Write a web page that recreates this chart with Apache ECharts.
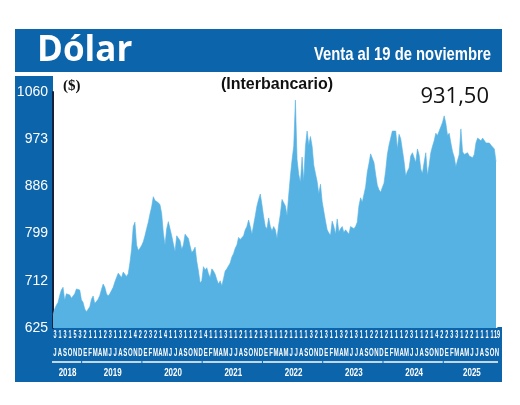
<!DOCTYPE html>
<html><head><meta charset="utf-8">
<script src="https://cdn.jsdelivr.net/npm/echarts@6/dist/echarts.min.js"></script>
<style>html,body{margin:0;padding:0;background:#fff}#c{width:520px;height:405px}</style>
</head><body><div id="c"></div>
<script>
// ---- data (dólar interbancario, 3 readings per month, Jul 2018 – 19 Nov 2025) ----
const yTicks = [625, 712, 799, 886, 973, 1060];
const v2018 = [650,660,667, 672,685,695, 700,676,688, 690,686,680, 678,688,697, 700,695,677];
const v2019 = [672,660,655, 654,664,678, 684,670,672, 678,685,696, 706,700,688, 684,688,694, 700,710,718, 726,722,718, 728,724,720, 725,745,770, 812,820,778, 768,772,777];
const v2020 = [784,795,808, 820,835,848, 867,860,862, 856,852,836, 800,778,808, 821,808,795, 780,766,795, 798,786,770, 778,798,796, 790,776,764, 768,774,748, 730,708,712];
const v2021 = [738,732,736, 725,718,734, 730,724,714, 706,712,703, 716,730,734, 736,745,756, 762,772,778, 792,788,786, 795,806,812, 824,812,798, 815,832,850, 862,872,852];
const v2022 = [830,812,808, 828,812,804, 812,806,790, 815,835,862, 864,850,832, 870,905,935, 960,1045,935, 908,893,940, 895,960,988, 962,978,960, 925,910,895, 872,890,858];
const v2023 = [840,822,806, 800,796,822, 812,798,826, 802,808,812, 801,806,805, 798,812,810, 808,812,820, 850,865,857, 860,885,912, 928,946,938, 930,908,888, 880,875,884];
const v2024 = [892,915,945, 962,975,988, 985,988,955, 982,974,953, 932,905,914, 920,942,948, 950,930,955, 944,918,910, 930,948,906, 925,948,960, 970,984,980, 988,996,1004];
const v2025 = [1016,1002,980, 984,966,950, 940,922,934, 945,992,950, 945,944,948, 942,940,939, 945,966,975, 974,970,975, 972,966,969, 966,962,965, 955,931.5];

const firstDays = [
  '3','1','3','1','5','3',
  '2','1','1','1','2','3','1','1','2','1','4','2',
  '2','3','2','1','4','1','1','3','1','1','2','1',
  '4','1','1','1','3','1','1','2','1','1','2','1',
  '3','1','1','1','2','1','1','1','1','3','2','1',
  '3','1','1','3','2','1','3','1','1','2','2','1',
  '2','1','1','1','2','3','1','1','2','1','4','2',
  '2','3','3','1','2','2','1','1','1','1','19'
];
const monthInitials = ['E','F','M','A','M','J','J','A','S','O','N','D'];
const years = [
  {label:'2018', from:0,  to:5},
  {label:'2019', from:6,  to:17},
  {label:'2020', from:18, to:29},
  {label:'2021', from:30, to:41},
  {label:'2022', from:42, to:53},
  {label:'2023', from:54, to:65},
  {label:'2024', from:66, to:77},
  {label:'2025', from:78, to:88}
];
const lastValue = '931,50';

// ---- derived ----
const values = [].concat(v2018, v2019, v2020, v2021, v2022, v2023, v2024, v2025);
const monthKeys = [], monthLetters = [];
for (let i = 0; i < firstDays.length; i++) {
  const m = (6 + i) % 12, y = 2018 + Math.floor((6 + i) / 12);
  monthKeys.push(y + '-' + String(m + 1).padStart(2, '0'));
  monthLetters.push(monthInitials[m]);
}
const cats = [];
monthKeys.forEach(k => { for (let t = 1; t <= 3; t++) cats.push(k + '/' + t); });
cats.length = values.length;

const BLUE = '#0c64aa', AREA = '#56b2e3';
const SANS = '"Liberation Sans", Arial, sans-serif';

function condensedText(text, x, y, font, fill, align, sx) {
  return {type: 'text', z: 10, x: x, y: y, scaleX: sx, scaleY: 1,
    style: {text: text, fill: fill, font: font, textAlign: align, textVerticalAlign: 'middle'}};
}

const chart = echarts.init(document.getElementById('c'), null, {renderer: 'canvas'});
chart.setOption({
  animation: false,
  backgroundColor: '#fff',
  grid: [
    {left: 53, right: 24, top: 92, bottom: 77},
    {left: 55, right: 23, top: 327, height: 16}
  ],
  xAxis: [
    {type: 'category', gridIndex: 0, data: cats, boundaryGap: false, show: false},
    {type: 'category', gridIndex: 1, data: monthKeys, boundaryGap: false, position: 'bottom',
     axisLine: {show: true, lineStyle: {color: '#fff', width: 1, type: [6, 3]}},
     axisTick: {show: false}, axisLabel: {show: false}}
  ],
  yAxis: [
    {type: 'value', gridIndex: 0, min: yTicks[0], max: yTicks[yTicks.length - 1], interval: yTicks[1] - yTicks[0],
     axisLine: {show: true, lineStyle: {color: '#15203a', width: 2}}, axisTick: {show: false},
     splitLine: {show: false},
     axisLabel: {color: '#fff', fontSize: 14, fontFamily: SANS, margin: 5, formatter: v => String(v)}},
    {type: 'value', gridIndex: 1, min: 0, max: 16, inverse: true, show: false}
  ],
  graphic: [
    {type: 'rect', z: -10, shape: {x: 15, y: 29, width: 487, height: 43}, style: {fill: BLUE}},
    {type: 'rect', z: -10, shape: {x: 15, y: 76, width: 38, height: 306}, style: {fill: BLUE}},
    {type: 'rect', z: -10, shape: {x: 15, y: 327, width: 487, height: 55}, style: {fill: BLUE}},
    condensedText('Dólar', 37, 51, 'bold 35px "Open Sans"', '#fff', 'left', 1),
    condensedText('Venta al 19 de noviembre', 491, 54.5, 'bold 19px ' + SANS, '#fff', 'right', 0.78),
    condensedText('($)', 63, 86, 'bold 15px "Liberation Serif"', '#111', 'left', 1),
    condensedText('(Interbancario)', 277, 84.5, 'bold 16px ' + SANS, '#111', 'center', 1),
    condensedText(lastValue, 489, 97, '22px "Open Sans"', '#111', 'right', 1)
  ],
  series: [
    {type: 'line', xAxisIndex: 0, yAxisIndex: 0, data: values, showSymbol: false, silent: true,
     lineStyle: {color: AREA, width: 0.6}, areaStyle: {color: AREA, opacity: 1}, z: 2},
    {type: 'custom', xAxisIndex: 1, yAxisIndex: 1, silent: true, z: 5,
     data: monthKeys.map((k, i) => [i, 0]),
     renderItem: function (params, api) {
       const d = api.coord([api.value(0), 8]);
       const m = api.coord([api.value(0), 26]);
       return {type: 'group', children: [
         {type: 'text', x: d[0], y: d[1], scaleX: 0.55,
          style: {text: firstDays[params.dataIndex], fill: '#fff', font: 'bold 10px ' + SANS,
                  textAlign: 'center', textVerticalAlign: 'middle'}},
         {type: 'text', x: m[0], y: m[1], scaleX: 0.6,
          style: {text: monthLetters[params.dataIndex], fill: '#fff', font: 'bold 10px ' + SANS,
                  textAlign: 'center', textVerticalAlign: 'middle'}}
       ]};
     }},
    {type: 'custom', xAxisIndex: 1, yAxisIndex: 1, silent: true, z: 5,
     data: years.map(y => [y.from, y.to, 0]),
     encode: {x: [0, 1], y: 2},
     renderItem: function (params, api) {
       const a = api.coord([api.value(0), 35]);
       const b = api.coord([api.value(1), 35]);
       const t = api.coord([api.value(0), 46]);
       return {type: 'group', children: [
         {type: 'line', shape: {x1: a[0] - 3, y1: a[1], x2: b[0] + 1, y2: b[1]},
          style: {stroke: '#fff', lineWidth: 1.5}},
         {type: 'text', x: (a[0] + b[0]) / 2, y: t[1], scaleX: 0.8,
          style: {text: years[params.dataIndex].label, fill: '#fff',
                  font: 'bold 10px ' + SANS, textAlign: 'center', textVerticalAlign: 'middle'}}
       ]};
     }}
  ]
});
</script></body></html>
